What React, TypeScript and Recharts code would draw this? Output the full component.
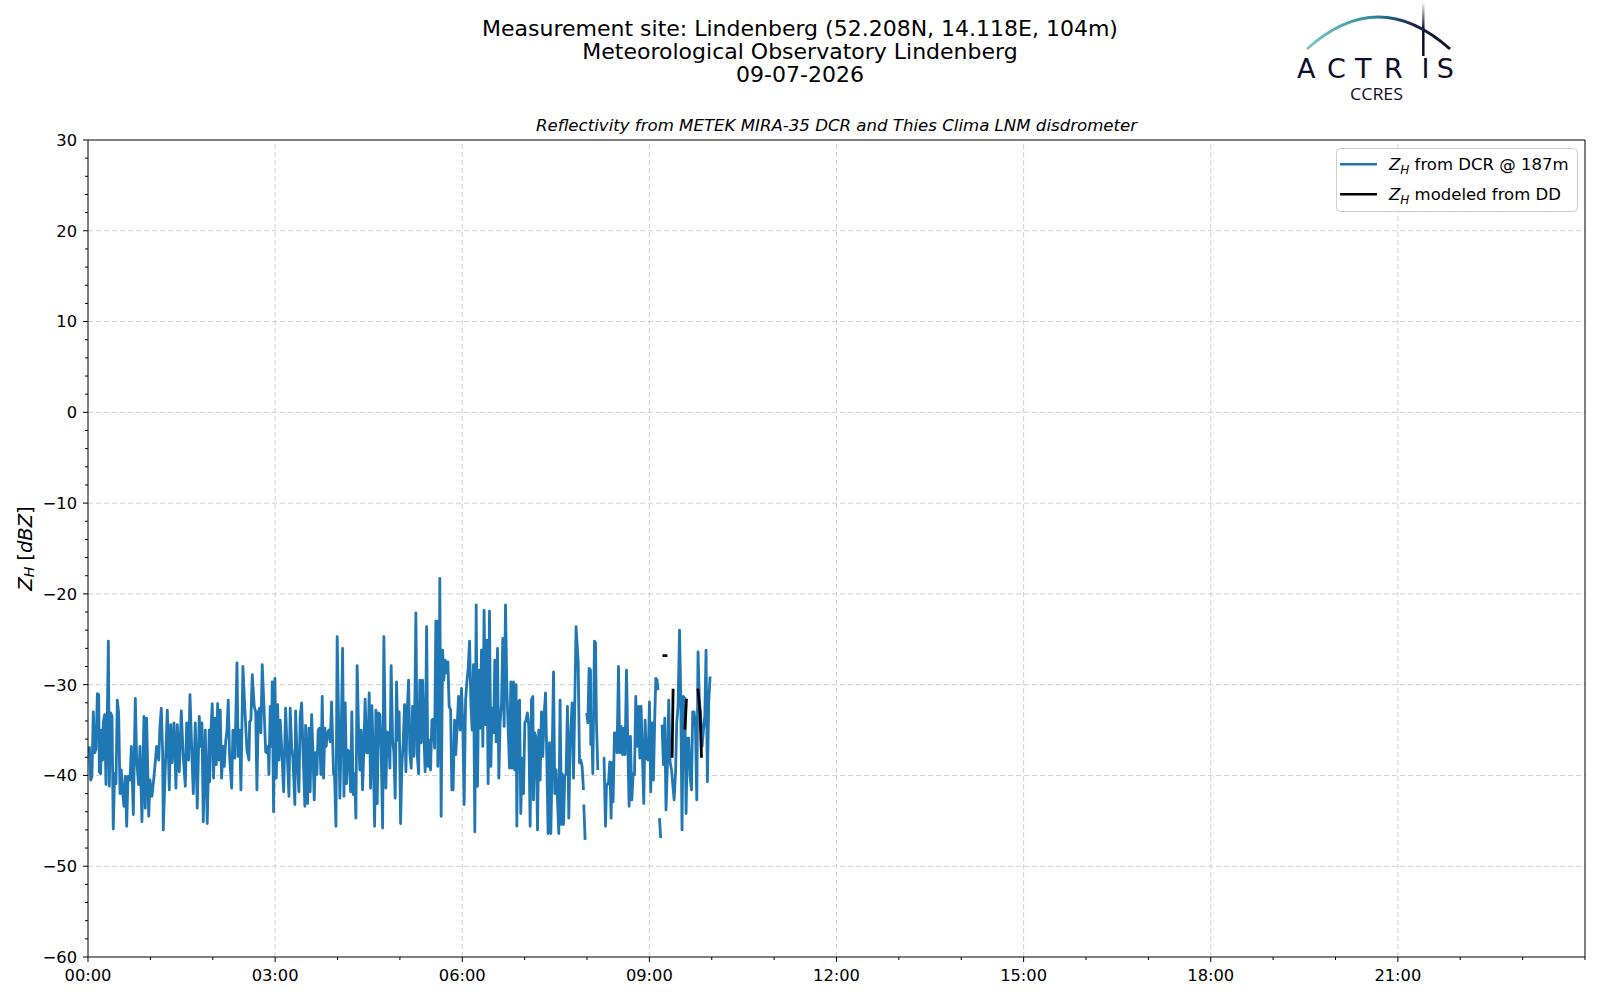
import React from 'react';
import { LineChart, Line, XAxis, YAxis, ReferenceLine } from 'recharts';

// Z_H from the cloud radar at 187 m, time in minutes after 00:00 UTC (null = gap)
const dcrMinutes = [
  1.3, 2.6, 3.8, 5.1, 6.4, 7.7, 9.0, 10.3, 10.9, 12.2,
  12.8, 14.1, 14.7, 16.0, 17.3, 18.6, 19.6, 20.5, 21.8, 23.1,
  24.3, 25.6, 26.9, 28.2, 29.5, 30.8, 32.0, 33.3, 34.6, 35.9,
  37.2, 38.5, 40.4, 41.7, 43.6, 45.5, 46.8, 48.7, 50.0, 51.9,
  53.8, 55.1, 56.4, 58.4, 59.6, 61.5, 63.5, 66.0, 68.0, 69.2,
  70.5, 71.8, 72.4, 74.3, 76.3, 78.2, 79.5, 80.8, 82.7, 84.6,
  85.9, 87.8, 89.7, 91.6, 93.6, 94.9, 96.8, 98.1, 100.1, 101.3,
  103.2, 105.1, 107.0, 108.4, 109.6, 110.9, 112.8, 114.7, 116.6,
  117.0, 118.3, 119.5, 120.8, 122.1, 123.4, 124.7, 126.0, 127.2, 128.5,
  129.8, 131.1, 132.4, 133.7, 134.9, 136.2, 138.2, 139.4, 141.3, 143.3,
  144.5, 145.9, 147.1, 149.0, 151.0, 152.9, 154.8, 155.5, 156.7, 158.0,
  159.9, 161.3, 162.5, 163.8, 165.1, 166.3, 167.6, 169.5, 170.9, 172.1,
  173.4, 174.0, 175.3, 176.6, 177.2, 178.5, 179.8, 181.1, 182.4, 183.7,
  184.9, 186.2, 188.2, 190.1, 192.0, 193.3, 194.5, 195.9, 197.1, 199.0,
  199.7, 201.0, 202.9, 204.1, 205.5, 206.7, 208.6, 209.3, 211.2, 212.5,
  213.7, 215.1, 216.4, 217.6, 218.9, 220.2, 221.4, 222.8, 224.0, 225.3,
  226.6, 227.9, 229.1, 230.5, 231.7, 233.0, 234.3, 236.2,
  237.2, 238.5, 239.7, 241.0, 242.3, 243.6, 244.9, 246.2, 247.4, 248.7,
  250.0, 251.3, 252.6, 253.8, 255.1, 256.4, 257.7, 258.9, 260.3, 261.5,
  262.8, 264.1, 265.4, 266.6, 268.0, 269.2, 270.5, 271.8, 273.1, 274.3,
  275.7, 276.9, 278.2, 279.5, 280.8, 282.0, 283.4, 284.6, 285.9, 286.5,
  287.8, 289.1, 290.4, 291.6, 293.0, 294.2, 295.5, 296.8, 298.1, 299.3,
  300.7, 301.9, 303.2, 304.5, 305.8, 307.0, 308.4, 309.6, 310.9, 312.2,
  313.5, 314.7, 315.4, 316.6, 318.0, 319.2, 320.5, 321.8, 323.1, 324.3,
  325.7, 326.9, 328.2, 329.5, 330.8, 332.0, 333.4, 334.6, 335.9, 336.5,
  337.8, 338.4, 339.7, 341.1, 342.3, 343.6, 344.9, 346.2, 347.4, 348.8,
  350.0, 351.2, 352.6, 353.8, 355.1, 356.4,
  358.0, 359.3, 360.6, 361.8, 363.2, 364.4, 365.7, 367.0, 368.3, 369.5,
  370.8, 372.1, 373.4, 374.7, 375.9, 377.2, 378.5, 379.8, 381.0, 382.4,
  383.6, 384.9, 386.2, 387.5, 388.7, 390.1, 391.3, 392.6, 393.9, 395.2,
  396.4, 397.8, 399.0, 400.3, 401.6, 402.9, 404.1, 405.5, 406.7, 408.0,
  409.3, 410.6, 411.8, 412.5, 413.7, 415.1, 416.3, 417.6, 418.9, 420.2,
  421.4, 422.7, 424.0, 425.3, 426.6, 427.9, 428.5, 429.8, 431.1, 432.4,
  433.6, 434.9, 436.2, 437.5, 438.7, 440.1, 441.3, 442.6, 443.9, 445.2,
  446.4, 447.8, 449.0, 450.3, 451.6, 452.9, 454.1, 455.5, 456.1, 457.4,
  458.6, 459.9, 461.2, 462.5, 463.7, 465.7, 467.0, 468.3, 469.5, 471.5,
  472.8, 474.0, 475.3, 476.6,
  476.75, 476.9, 478.2, 479.0,
  479.8, 480.8, 482.0, 483.4, 483.6, 484.6, 485.6, 487.2, 488.2, 489.1, 490.4,
  492.8,
  495.2, 496.4, 497.8, 498.7, 500.7, 501.9, 503.2, 504.1, 505.1, 506.4,
  507.7, 508.9, 510.3, 511.5, 512.8, 514.2, 515.4, 516.6, 518.0, 519.2,
  520.5, 521.8, 523.1, 524.4, 525.7, 526.9, 528.2, 529.6, 530.8, 532.0,
  533.4, 534.6, 535.9, 537.2, 538.8, 540.1, 541.3, 542.6, 543.9, 545.2,
  546.2, 547.4, 548.4,
  549.0, 549.7, 550.9, 551.5,
  552.2, 553.5, 554.8, 556.0, 557.4, 558.6, 559.9, 561.3, 563.8, 565.2,
  566.3, 567.6, 569.0, 570.2, 571.4, 572.8, 574.0, 575.3, 576.6, 577.9,
  579.1, 580.5, 581.7, 583.0, 584.3, 585.6, 586.8, 588.1, 589.4, 590.7,
  592.0, 593.3, 594.5, 595.8, 597.1, 598.4,
];
const dcrDbz = [
  -36.8, -40.5, -40.1, -33.0, -37.5, -37.1, -31.0, -31.1, -39.6, -39.8,
  -35.0, -38.3, -34.2, -33.3, -41.0, -33.1, -25.2, -41.2, -33.1, -33.5,
  -45.9, -39.8, -40.9, -31.7, -33.1, -42.0, -39.4, -41.8, -43.4, -40.1,
  -45.6, -40.1, -40.5, -36.8, -44.3, -31.5, -38.3, -41.0, -36.8, -45.1,
  -33.5, -43.6, -33.7, -44.5, -40.5, -42.3, -40.1, -36.8, -38.3, -34.6,
  -32.6, -37.5, -46.0, -39.4, -32.8, -41.6, -34.4, -38.6, -34.2, -41.4,
  -34.4, -39.6, -32.9, -37.9, -41.2, -34.2, -38.3, -31.1, -38.3, -42.0,
  -34.2, -43.6, -33.5, -36.8, -34.2, -45.1, -35.0, -45.3, -35.0,
  -40.7, -35.0, -32.1, -40.3, -33.7, -38.8, -32.1, -38.3, -32.8, -40.3,
  -36.8, -39.0, -36.3, -35.0, -31.7, -37.9, -41.4, -35.0, -38.1, -27.6,
  -37.9, -35.0, -41.6, -28.0, -33.0, -37.2, -38.3, -34.1, -33.9, -28.9,
  -32.4, -33.0, -41.6, -33.0, -32.6, -35.3, -27.8, -33.1, -37.4, -37.5,
  -36.8, -39.9, -32.4, -36.8, -29.7, -44.0, -29.3, -40.3, -32.2, -38.3,
  -33.9, -36.8, -41.8, -32.6, -38.6, -42.3, -32.6, -36.8, -38.1, -43.2,
  -32.9, -37.5, -41.8, -33.5, -32.0, -36.8, -43.4, -34.5, -43.1, -34.8,
  -41.8, -33.3, -37.4, -42.7, -37.5, -39.9, -35.0, -34.8, -39.9, -31.3,
  -40.3, -34.8, -36.8, -35.3, -35.0, -36.3, -31.9, -39.8,
  -40.1, -45.6, -24.7, -33.5, -42.5, -35.3, -26.0, -42.3, -32.0, -40.9,
  -37.2, -37.4, -41.8, -33.0, -42.1, -39.8, -44.7, -27.9, -35.3, -39.4,
  -35.0, -41.6, -36.8, -31.6, -37.5, -37.5, -30.9, -41.4, -32.3, -37.5,
  -45.6, -32.8, -43.1, -33.1, -33.3, -37.2, -45.8, -24.7, -35.2, -41.4,
  -35.2, -35.3, -39.2, -27.9, -36.1, -37.4, -42.5, -29.7, -36.1, -33.0,
  -45.3, -39.0, -36.3, -32.2, -39.6, -33.1, -29.5, -37.5, -39.2, -32.4,
  -37.9, -29.5, -22.1, -37.5, -39.8, -29.5, -36.4, -29.5, -35.3, -39.6,
  -23.6, -39.0, -36.1, -39.4, -33.9, -33.8, -37.0, -23.0, -23.0, -39.0,
  -33.3, -18.3, -44.5, -26.2, -29.5, -27.3, -28.7, -27.5, -32.4, -32.8,
  -41.6, -41.6, -33.9, -37.7, -34.6, -31.3,
  -35.0, -30.4, -34.6, -43.2, -31.7, -29.8, -28.2, -25.2, -32.0, -35.0,
  -27.8, -46.2, -21.2, -41.2, -28.4, -34.8, -26.2, -36.8, -21.8, -34.4,
  -25.1, -40.9, -21.9, -39.0, -32.6, -35.3, -27.3, -36.3, -26.0, -40.3,
  -34.2, -32.0, -24.9, -34.6, -21.2, -30.2, -34.6, -39.2, -29.7, -39.2,
  -29.7, -39.4, -30.0, -45.6, -32.0, -31.7, -44.2, -38.1, -42.0, -34.2,
  -33.9, -33.1, -34.6, -45.6, -31.7, -31.3, -42.7, -35.3, -35.9, -46.0,
  -35.0, -40.5, -33.0, -37.9, -33.5, -30.9, -37.9, -46.4, -36.4, -46.4,
  -38.6, -28.6, -42.0, -39.4, -42.7, -46.4, -31.7, -45.4, -39.8, -45.4,
  -40.1, -39.8, -32.4, -44.7, -36.6, -32.0, -40.3, -31.7, -23.6, -27.5,
  -38.6, -38.3, -39.0, -41.6,
  null, -43.2, -47.1, null,
  -33.1, -34.2, -28.2, -28.4, -36.6, -34.6, -39.8, -25.2, -25.4, -34.2, -39.4,
  null,
  -38.1, -38.1, -45.6, -41.2, -40.7, -38.5, -44.7, -38.6, -42.9, -35.3,
  -35.3, -37.5, -28.0, -37.5, -34.6, -37.7, -34.8, -37.7, -28.4, -36.1,
  -43.4, -35.7, -42.7, -39.8, -39.9, -31.3, -36.8, -32.4, -38.1, -32.4,
  -38.1, -43.1, -33.9, -38.1, -38.3, -31.9, -41.8, -34.2, -40.5, -33.5,
  -29.3, -29.5, -30.6,
  null, -44.7, -46.9, null,
  -34.4, -38.8, -33.7, -43.8, -38.6, -31.7, -38.5, -39.4, -42.7, -39.6,
  -34.2, -32.4, -24.0, -31.3, -46.0, -31.3, -31.5, -44.2, -35.9, -35.9,
  -40.1, -41.6, -33.0, -33.0, -34.6, -42.7, -26.4, -31.7, -33.5, -36.8,
  -35.0, -33.5, -26.2, -40.7, -31.9, -29.1,
];

// Z_H modeled from the disdrometer drop size distribution
const ddMinutes = [554.0, 556.0, 559.0, 561.9, 562.8, 568.0, 574.3, 575.6, 580.0, 586.8, 588.7, 590.1];
const ddDbz = [-26.8, -26.8, null, -37.9, -30.6, null, -34.8, -31.7, null, -30.6, -33.0, -37.9];

const hourTicks = [0, 60, 120, 180, 240, 300, 360, 420, 480, 540, 600, 660, 720, 780, 840, 900, 960, 1020, 1080, 1140, 1200, 1260, 1320, 1380, 1440];
const majorHourTicks = [0, 180, 360, 540, 720, 900, 1080, 1260];
const hourLabels = ['00:00', '03:00', '06:00', '09:00', '12:00', '15:00', '18:00', '21:00'];
const dbzTicks = [
  -60, -58, -56, -54, -52, -50, -48, -46, -44, -42, -40, -38, -36, -34, -32, -30,
  -28, -26, -24, -22, -20, -18, -16, -14, -12, -10, -8, -6, -4, -2, 0,
  2, 4, 6, 8, 10, 12, 14, 16, 18, 20, 22, 24, 26, 28, 30,
];
const majorDbzTicks = [-60, -50, -40, -30, -20, -10, 0, 10, 20, 30];

const dcrData = dcrMinutes.map((t, i) => ({ t, z: dcrDbz[i] }));
const ddData = ddMinutes.map((t, i) => ({ t, z: ddDbz[i] }));

const FONT = "'DejaVu Sans', sans-serif";
const GRID = '#d0d0d0';

function XTick({ x, y, payload }: any) {
  const idx = majorHourTicks.indexOf(payload.value);
  const major = idx >= 0;
  return (
    <g>
      <line x1={x} x2={x} y1={y} y2={y + (major ? 5 : 3)} stroke="#000" strokeWidth={1} />
      {major && (
        <text x={x} y={y + 12} dy="0.76em" textAnchor="middle" fontSize={16.3} fill="#000" fontFamily={FONT}>
          {hourLabels[idx]}
        </text>
      )}
    </g>
  );
}

function YTick({ x, y, payload }: any) {
  const major = majorDbzTicks.includes(payload.value);
  return (
    <g>
      <line x1={x - (major ? 5 : 3)} x2={x} y1={y} y2={y} stroke="#000" strokeWidth={1} />
      {major && (
        <text x={x - 11} y={y} dy="0.36em" textAnchor="end" fontSize={16.3} fill="#000" fontFamily={FONT}>
          {String(payload.value).replace('-', '\u2212')}
        </text>
      )}
    </g>
  );
}

function YLabel(props: any) {
  const vb = props.viewBox && props.viewBox.height ? props.viewBox : { x: 0, y: 140, width: 88, height: 817 };
  const cx = vb.x + 25;
  const cy = vb.y + vb.height / 2;
  return (
    <text transform={`rotate(-90 ${cx} ${cy})`} x={cx} y={cy} textAnchor="middle" dominantBaseline="central"
      fontSize={19.5} fill="#000" fontFamily={FONT}>
      <tspan fontStyle="italic">Z</tspan>
      <tspan fontStyle="italic" fontSize={14} dy={4}>H</tspan>
      <tspan dy={-4}> [</tspan>
      <tspan fontStyle="italic">dBZ</tspan>
      <tspan>]</tspan>
    </text>
  );
}

function Logo() {
  return (
    <svg width={1600} height={110} style={{ position: 'absolute', left: 0, top: 0 }}>
      <defs>
        <linearGradient id="arcGrad" x1="1307" y1="0" x2="1450" y2="0" gradientUnits="userSpaceOnUse">
          <stop offset="0" stopColor="#7cc7c6" />
          <stop offset="0.45" stopColor="#2f8c9f" />
          <stop offset="0.75" stopColor="#14254a" />
          <stop offset="1" stopColor="#0c0f2c" />
        </linearGradient>
        <linearGradient id="barGrad" x1="0" y1="2" x2="0" y2="55" gradientUnits="userSpaceOnUse">
          <stop offset="0" stopColor="#ffffff" />
          <stop offset="0.5" stopColor="#0c0f2c" />
        </linearGradient>
      </defs>
      <path d="M1307 49 Q1378 -15 1450 49" fill="none" stroke="url(#arcGrad)" strokeWidth={3} />
      <line x1={1423.3} x2={1423.3} y1={2} y2={56} stroke="url(#barGrad)" strokeWidth={2.5} />
      <text x="1297 1327 1355 1384 1421.5 1436.7" y={77.7} fontSize={27} fill="#0c0f2c" fontFamily={FONT}>
        ACTRIS
      </text>
      <text x={1350} y={99.5} fontSize={16.5} fill="#0c0f2c" fontFamily="'Open Sans', sans-serif"
        textLength={53} lengthAdjust="spacingAndGlyphs">
        CCRES
      </text>
    </svg>
  );
}

function LegendBox() {
  const row = (y: number, color: string, rest: string) => (
    <g>
      <line x1={4} x2={41} y1={y} y2={y} stroke={color} strokeWidth={2.6} />
      <text x={53} y={y} dy="0.36em" fontSize={16.5} fill="#000" fontFamily={FONT}>
        <tspan fontStyle="italic">Z</tspan>
        <tspan fontStyle="italic" fontSize={12} dy={4}>H</tspan>
        <tspan dy={-4}>{' ' + rest}</tspan>
      </text>
    </g>
  );
  return (
    <svg width={243} height={66} style={{ position: 'absolute', left: 1336, top: 148 }}>
      <rect x={0.5} y={0.5} width={241} height={63} rx={4} fill="#ffffff" fillOpacity={0.8} stroke="#cccccc" />
      {row(16.3, '#1f77b4', 'from DCR @ 187m')}
      {row(46.3, '#000000', 'modeled from DD')}
    </svg>
  );
}

export default function App() {
  return (
    <div style={{ position: 'absolute', left: 0, top: 0, width: 1600, height: 1000, background: '#fff', fontFamily: FONT, color: '#000' }}>
      <div style={{ position: 'absolute', left: 0, top: 0 }}>
        <LineChart width={1600} height={1000} margin={{ top: 140, right: 15, bottom: 0, left: 0 }}>
          <XAxis dataKey="t" type="number" domain={[0, 1440]} allowDataOverflow ticks={hourTicks} interval={0}
            tick={<XTick />} tickLine={false} tickSize={0} tickMargin={0} height={43}
            axisLine={{ stroke: '#000', strokeWidth: 1 }} />
          <YAxis type="number" domain={[-60, 30]} allowDataOverflow ticks={dbzTicks} interval={0}
            tick={<YTick />} tickLine={false} tickSize={0} tickMargin={0} width={88}
            axisLine={{ stroke: '#000', strokeWidth: 1 }} label={<YLabel />} />
          {majorHourTicks.slice(1).map((v) => (
            <ReferenceLine key={'gx' + v} x={v} stroke={GRID} strokeWidth={1} strokeDasharray="5 3" />
          ))}
          {majorDbzTicks.slice(1, -1).map((v) => (
            <ReferenceLine key={'gy' + v} y={v} stroke={GRID} strokeWidth={1} strokeDasharray="5 3" />
          ))}
          <ReferenceLine y={30} stroke="#000" strokeWidth={1} />
          <ReferenceLine x={1440} stroke="#000" strokeWidth={1} />
          <Line data={dcrData} dataKey="z" type="linear" stroke="#1f77b4" strokeWidth={2.8} dot={false}
            activeDot={false} connectNulls={false} strokeLinejoin="round" isAnimationActive={false} />
          <Line data={ddData} dataKey="z" type="linear" stroke="#000000" strokeWidth={2.8} dot={false}
            activeDot={false} connectNulls={false} strokeLinecap="square" isAnimationActive={false} />
        </LineChart>
      </div>
      <div style={{ position: 'absolute', left: 0, top: 17, width: 1600, textAlign: 'center', fontSize: 22, lineHeight: '23px' }}>
        <div>Measurement site: Lindenberg (52.208N, 14.118E, 104m)</div>
        <div>Meteorological Observatory Lindenberg</div>
        <div>09-07-2026</div>
      </div>
      <div style={{ position: 'absolute', left: 88, top: 116, width: 1497, textAlign: 'center', fontSize: 16.6, lineHeight: '19px', fontStyle: 'italic' }}>
        Reflectivity from METEK MIRA-35 DCR and Thies Clima LNM disdrometer
      </div>
      <Logo />
      <LegendBox />
    </div>
  );
}
